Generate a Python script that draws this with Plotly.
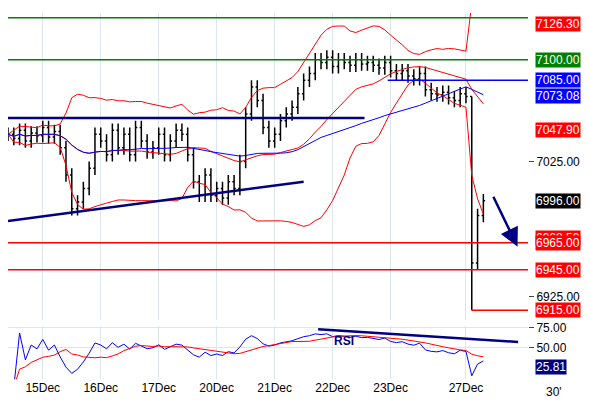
import plotly.graph_objects as go
import pandas as pd

closes = [7045,7042,7048,7040,7046,7044,7050,7043,7047,
          7035,7015,6990,6995,7005,7020,7045,
          7040,7030,7048,7035,7045,7030,7050,7040,7032,7035,7045,7030,7040,7048,7045,
          7030,7010,7000,7015,7000,7005,6998,7010,7005,
          7025,7060,7080,7070,7050,7040,7045,7055,7060,7065,7075,7085,7090,7100,7098,7102,
          7095,7100,7098,7096,7100,7097,7098,7096,7094,7098,7092,7090,7092,7088,7086,7090,
          7078,7075,7074,7076,7072,7070,7075,7073,6950,6985,6996]
opens = [closes[0]] + closes[:-1]
highs = [max(o, c) + 5 for o, c in zip(opens, closes)]
lows = [min(o, c) - 5 for o, c in zip(opens, closes)]
lows[80] = 6915
highs[80] = 7073
day_idx = [6, 16, 26, 36, 46, 56, 66, 79]
day_lbl = ["15Dec", "16Dec", "17Dec", "20Dec", "21Dec", "22Dec", "23Dec", "27Dec"]

x = list(range(len(closes)))
s = pd.Series(closes, dtype=float)
mid = s.rolling(20, min_periods=1).mean()
sd = s.rolling(20, min_periods=1).std().fillna(0)
ma40 = s.rolling(40, min_periods=1).mean()
d = s.diff().fillna(0)
up = d.clip(lower=0).ewm(alpha=1/14).mean()
dn = (-d.clip(upper=0)).ewm(alpha=1/14).mean()
rsi = 100 - 100 / (1 + up / dn.replace(0, 1e-9))
rsi_sig = rsi.rolling(9, min_periods=1).mean()

fig = go.Figure()
fig.add_trace(go.Ohlc(x=x, open=opens, high=highs, low=lows, close=closes,
                      increasing_line_color="black", decreasing_line_color="black",
                      line_width=1.5, yaxis="y"))
for v in [mid + 2*sd, mid, mid - 2*sd]:
    fig.add_trace(go.Scatter(x=x, y=v, mode="lines", line=dict(color="red", width=1)))
fig.add_trace(go.Scatter(x=x, y=ma40, mode="lines", line=dict(color="blue", width=1)))
fig.add_trace(go.Scatter(x=x, y=rsi, mode="lines", line=dict(color="blue", width=1), yaxis="y2"))
fig.add_trace(go.Scatter(x=x, y=rsi_sig, mode="lines", line=dict(color="red", width=1), yaxis="y2"))

shapes = []
def hl(y, x0, col, w=1.5, x1=90):
    shapes.append(dict(type="line", x0=x0, x1=x1, y0=y, y1=y, xref="x", yref="y",
                       line=dict(color=col, width=w)))
hl(7131, 0, "green"); hl(7100, 0, "green")
hl(6965, 0, "red"); hl(6945, 0, "red"); hl(6915, 80, "red")
hl(7085, 65.5, "blue")
hl(7057, 0, "#000080", 2.5, 61.5)
shapes.append(dict(type="line", x0=0, x1=51, y0=6981, y1=7010, line=dict(color="#000080", width=2.5)))
shapes.append(dict(type="line", x0=53.5, x1=88, y0=73, y1=57, yref="y2", xref="x",
                   line=dict(color="#000080", width=2.5)))
fig.update_layout(shapes=shapes)

anns = [dict(x=87.9, y=6962, ax=83.6, ay=7000, xref="x", yref="y", axref="x", ayref="y",
             showarrow=True, arrowhead=2, arrowsize=1.5, arrowwidth=2.5, arrowcolor="#000080", text=""),
        dict(x=58, y=58, xref="x", yref="y2", text="<b>RSI</b>", showarrow=False,
             font=dict(size=12, color="#000080"))]
labels = [(7126.3, "red"), (7100, "green"), (7085, "blue"), (7073.08, "blue"), (7047.9, "red"),
          (6996, "black"), (6968.5, "red"), (6965, "red"), (6945, "red"), (6915, "red")]
for v, c in labels:
    anns.append(dict(x=1.0, xref="paper", y=v, yref="y", xanchor="left", showarrow=False,
                     text=f"{v:.2f}", bgcolor=c, font=dict(color="white", size=12,
                     family="Liberation Sans"), borderpad=0, xshift=7))
anns.append(dict(x=1.0, xref="paper", y=25.81, yref="y2", xanchor="left", showarrow=False,
                 text="25.81", bgcolor="#000080", font=dict(color="white", size=12,
                 family="Liberation Sans"), borderpad=0, xshift=7))
anns.append(dict(x=1.0, xref="paper", y=0, yref="paper", yanchor="top", showarrow=False,
                 text="30'", font=dict(size=12, color="black"), xshift=36, yshift=0))
fig.update_layout(annotations=anns)

fig.update_layout(
    width=590, height=400, margin=dict(l=0, r=70, t=0, b=25),
    paper_bgcolor="white", plot_bgcolor="white", showlegend=False,
    font=dict(family="Liberation Sans", size=12, color="black"),
    xaxis=dict(range=[0, 89.7], tickvals=day_idx, ticktext=day_lbl, showgrid=True,
               gridcolor="#dde6ee", rangeslider=dict(visible=False), zeroline=False,
               anchor="y2", ticks=""),
    yaxis=dict(domain=[0.17, 1], range=[6907.8, 7134.6], side="right", tickvals=[7025, 6925],
               ticktext=["7025.00", "6925.00"], showgrid=False, zeroline=False, ticks="outside",
               ticklen=5),
    yaxis2=dict(domain=[0.01, 0.155], range=[10, 77.5], side="right", tickvals=[75, 50],
                ticktext=["75.00", "50.00"], showgrid=True, gridcolor="#dde6ee", zeroline=False,
                ticks="outside", ticklen=5),
)
for t in fig.data[5:]:
    t.update(xaxis="x")
fig.write_html("out.html")
